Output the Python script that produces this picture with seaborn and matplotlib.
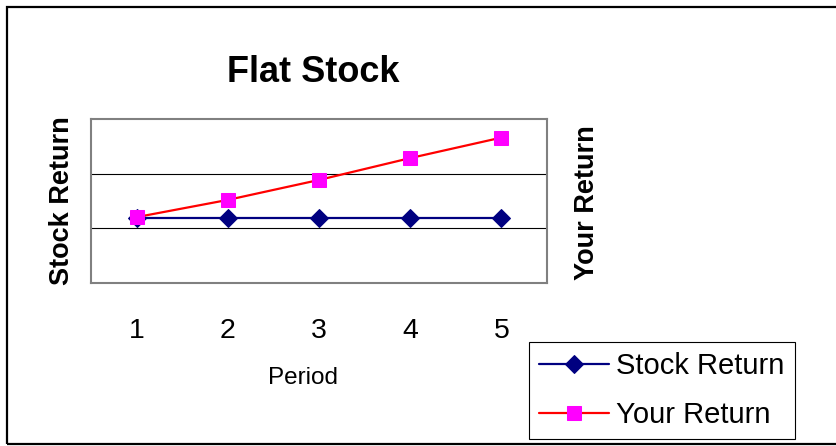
import matplotlib
matplotlib.use("Agg")
import matplotlib.pyplot as plt
import matplotlib.patches as mpatches
import seaborn as sns

# Data
periods = [1, 2, 3, 4, 5]
stock_return = [0.018, 0.018, 0.018, 0.018, 0.018]
your_return = [0.0205, 0.052, 0.0885, 0.1285, 0.166]
series_names = ["Stock Return", "Your Return"]
gridline_values = [0.0, 0.1]

sns.set_theme(style="white")
plt.rcParams["font.family"] = ["Liberation Sans", "DejaVu Sans"]

W, H = 836, 446
fig = plt.figure(figsize=(W / 100, H / 100), dpi=100)
fig.patch.set_facecolor("white")

# Outer chart frame (runs off the right edge)
fig.patches.append(mpatches.Rectangle(
    (6.5 / W, 1 - 443.5 / H), (W + 10) / W, (443.5 - 6.5) / H,
    transform=fig.transFigure, fill=False, edgecolor="black", linewidth=1.6, zorder=0))

ax = fig.add_axes([91 / W, 1 - 283 / H, (547 - 91) / W, (283 - 119) / H])
ax.set_facecolor("white")

navy = "#000080"
sns.lineplot(x=periods, y=stock_return, ax=ax, color=navy, linewidth=1.6,
             marker="D", markersize=9, markerfacecolor=navy, markeredgecolor=navy,
             label=series_names[0], zorder=3)
sns.lineplot(x=periods, y=your_return, ax=ax, color="#FF0000", linewidth=1.6,
             marker="s", markersize=10, markerfacecolor="#FF00FF", markeredgecolor="#FF00FF",
             label=series_names[1], zorder=4)

ax.set_xlim(0.5, 5.5)
ax.set_ylim(-0.1, 0.2)
ax.set_xticks(periods)
ax.set_xticklabels([str(p) for p in periods])
ax.set_yticks([])
for g in gridline_values:
    ax.axhline(g, color="black", linewidth=0.8, zorder=1)
ax.tick_params(axis="x", length=0, pad=25, labelsize=20.5, labelcolor="black")

for s in ax.spines.values():
    s.set_visible(True)
    s.set_color("#808080")
    s.set_linewidth(1.5)

ax.set_xlabel("")
ax.set_ylabel("Stock Return", fontsize=19.5, fontweight="bold", color="black", va="center")
ax.yaxis.set_label_coords(62 / W, 1 - 201 / H, transform=fig.transFigure)

# Secondary axis title
ax2 = ax.twinx()
ax2.set_ylim(ax.get_ylim())
ax2.set_yticks([])
for s in ax2.spines.values():
    s.set_visible(False)
ax2.set_ylabel("Your Return", fontsize=19.5, fontweight="bold", color="black",
               rotation=90, va="center")
ax2.yaxis.set_label_coords(587 / W, 1 - 203 / H, transform=fig.transFigure)

fig.text(303 / W, 1 - 378 / H, "Period", fontsize=17.5, ha="center", va="center", color="black")
fig.text(313 / W, 1 - 73 / H, "Flat Stock", fontsize=26, fontweight="bold",
         ha="center", va="center", color="black")

leg = ax.legend(loc="lower left", bbox_to_anchor=(529 / W, 1 - 439 / H),
                bbox_transform=fig.transFigure, fontsize=21, frameon=True,
                fancybox=False, shadow=False, framealpha=1, edgecolor="black",
                handlelength=2.4, handletextpad=0.25, borderpad=0.35,
                labelspacing=0.72, borderaxespad=0)
leg.get_frame().set_linewidth(0.8)
for t in leg.get_texts():
    t.set_color("black")

fig.savefig("out.png", dpi=100)
